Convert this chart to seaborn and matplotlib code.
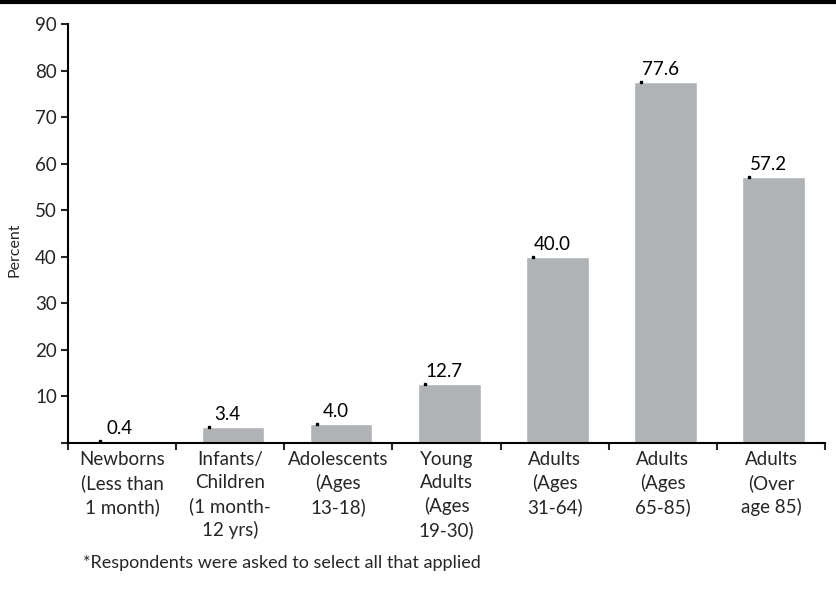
import matplotlib
matplotlib.use("Agg")
import matplotlib.pyplot as plt
from matplotlib.lines import Line2D
import seaborn as sns
import pandas as pd

categories = [
    "Newborns\n(Less than\n1 month)",
    "Infants/\nChildren\n(1 month-\n12 yrs)",
    "Adolescents\n(Ages\n13-18)",
    "Young\nAdults\n(Ages\n19-30)",
    "Adults\n(Ages\n31-64)",
    "Adults\n(Ages\n65-85)",
    "Adults\n(Over\nage 85)",
]
percent = [0.4, 3.4, 4.0, 12.7, 40.0, 77.6, 57.2]
y_ticks = [0, 10, 20, 30, 40, 50, 60, 70, 80, 90]
y_tick_labels = ["", "10", "20", "30", "40", "50", "60", "70", "80", "90"]

df = pd.DataFrame({"group": categories, "percent": percent})

sns.set_style("white")
plt.rcParams["font.family"] = ["Lato", "DejaVu Sans"]

fig = plt.figure(figsize=(8.36, 6.10), dpi=100)
ax = fig.add_axes([0.0813, 0.2738, 0.9057, 0.6869])

bar_color = "#b0b3b6"
sns.barplot(data=df, x="group", y="percent", color=bar_color, width=0.58,
            saturation=1, ax=ax, errorbar=None)

# nudge bars a little to the right of their category centres
for patch in ax.patches:
    patch.set_x(patch.get_x() + 0.025)

# value labels and small point markers on each bar
for i, v in enumerate(percent):
    ax.annotate(f"{v:.1f}", (i, v), xytext=(-2, 3), textcoords="offset points",
                ha="center", va="bottom", fontsize=13.5, color="black")
    ax.plot(i - 0.2, v, marker="s", markersize=2, color="black",
            linestyle="none")

ax.set_ylim(0, 90)
ax.set_xlim(-0.5, 6.5)
ax.set_yticks(y_ticks)
ax.set_yticklabels(y_tick_labels, fontsize=13.5)
ax.set_xticks(range(len(categories)))
ax.set_xticklabels(categories, fontsize=13.5, linespacing=1.4)
ax.set_xticks([i - 0.5 for i in range(len(categories) + 1)], minor=True)
ax.tick_params(axis="x", which="major", length=0, pad=6)
ax.tick_params(axis="x", which="minor", length=5, width=1.5, direction="out",
               bottom=True)
ax.tick_params(axis="y", length=5, width=1.5, direction="out", left=True,
               pad=3)
ax.set_xlabel("")
ax.set_ylabel("Percent", fontsize=11.5, labelpad=6)
ax.yaxis.set_label_coords(-0.062, 0.46)

for side in ["top", "right"]:
    ax.spines[side].set_visible(False)
for side in ["left", "bottom"]:
    ax.spines[side].set_linewidth(1.5)
    ax.spines[side].set_color("black")

fig.text(0.099, 0.077, "*Respondents were asked to select all that applied",
         fontsize=13, ha="left", va="center")

fig.add_artist(Line2D([0, 1], [0.997, 0.997], color="black", linewidth=3,
                      transform=fig.transFigure))

fig.savefig("out.png", dpi=100)
